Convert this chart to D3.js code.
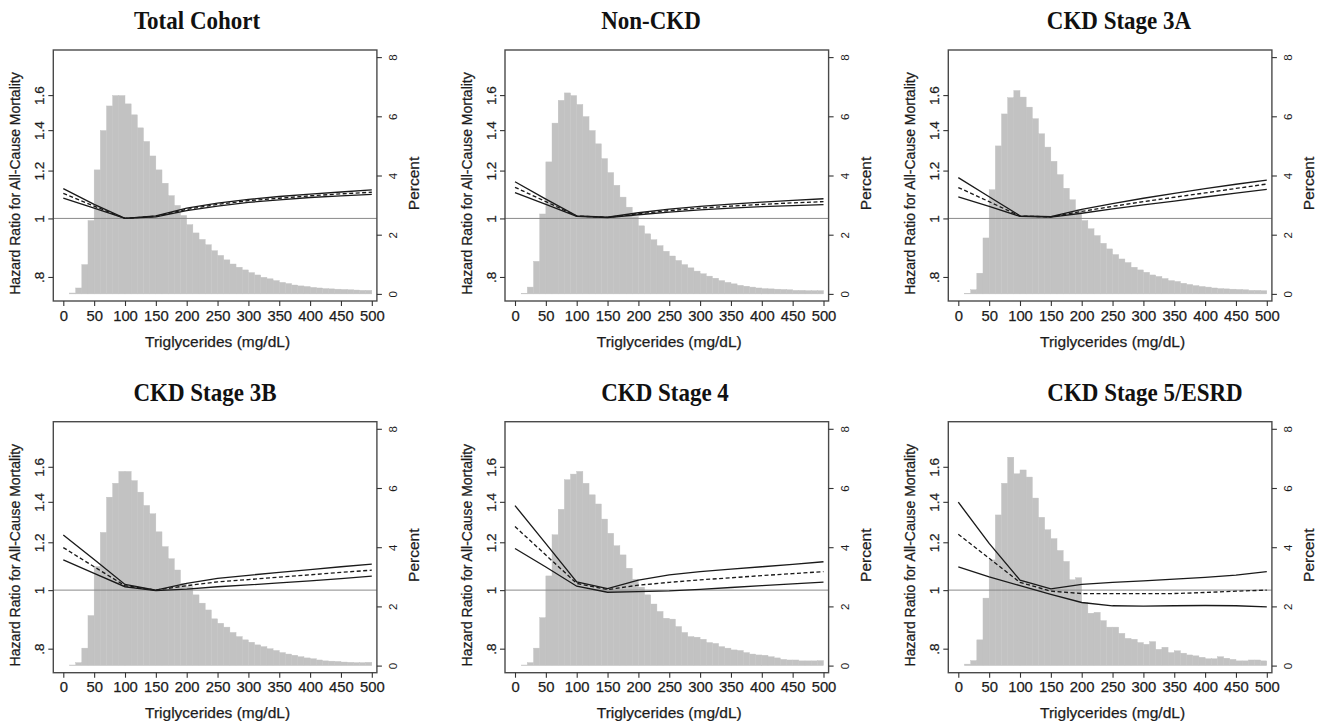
<!DOCTYPE html>
<html><head><meta charset="utf-8">
<script src="https://cdn.jsdelivr.net/npm/d3@7"></script>
<style>body{margin:0;background:#fff}svg{display:block}</style>
</head><body>
<svg id="c" width="1326" height="721"></svg>
<script>
// ---------- data ----------
const panelTitles = ["Total Cohort", "Non-CKD", "CKD Stage 3A", "CKD Stage 3B", "CKD Stage 4", "CKD Stage 5/ESRD"];
const binStarts = d3.range(10, 500, 10); // histogram bins (width 10)
const binWidth = 10;
const xTicks = [0, 50, 100, 150, 200, 250, 300, 350, 400, 450, 500];
const hrTicks = [0.8, 1, 1.2, 1.4, 1.6];
const hrTickLabels = [".8", "1", "1.2", "1.4", "1.6"];
const pctTicks = [0, 2, 4, 6, 8];
const knots = [0, 50, 100, 150, 200, 250, 300, 350, 400, 450, 500];

const histTotal = [0.03,0.2,0.99,2.48,4.19,5.52,6.35,6.70,6.70,6.42,6.05,5.61,5.15,4.66,4.19,3.74,3.32,2.99,2.65,2.34,2.06,1.84,1.66,1.46,1.30,1.15,1.01,0.90,0.81,0.72,0.64,0.56,0.51,0.45,0.39,0.35,0.30,0.27,0.25,0.22,0.20,0.18,0.17,0.16,0.15,0.14,0.13,0.12,0.12];
const histNonCKD = [0.02,0.23,1.10,2.70,4.46,5.77,6.54,6.79,6.70,6.40,5.99,5.52,5.07,4.57,4.10,3.67,3.27,2.93,2.61,2.30,2.03,1.83,1.63,1.44,1.28,1.13,0.99,0.88,0.77,0.68,0.60,0.53,0.45,0.39,0.34,0.29,0.26,0.23,0.20,0.18,0.17,0.16,0.15,0.14,0.12,0.12,0.11,0.11,0.11];
const hist3A = [0.02,0.14,0.70,1.89,3.52,5.00,6.08,6.63,6.87,6.65,6.31,5.92,5.41,4.96,4.48,4.03,3.57,3.18,2.84,2.48,2.20,1.97,1.71,1.52,1.33,1.18,1.06,0.90,0.81,0.73,0.64,0.59,0.52,0.45,0.42,0.36,0.32,0.28,0.25,0.23,0.20,0.18,0.17,0.16,0.15,0.14,0.12,0.12,0.11];
const hist3B = [0.02,0.10,0.59,1.69,3.35,4.50,5.69,6.16,6.56,6.56,6.25,5.86,5.41,5.13,4.52,4.02,3.61,3.23,2.78,2.67,2.39,2.11,1.88,1.58,1.43,1.30,1.12,0.98,0.87,0.79,0.70,0.64,0.57,0.51,0.44,0.39,0.35,0.30,0.26,0.23,0.19,0.16,0.15,0.14,0.12,0.11,0.10,0.10,0.11];
const hist4 = [0.02,0.10,0.59,1.62,3.03,4.42,5.28,6.28,6.47,6.56,6.16,5.77,5.46,4.95,4.47,4.05,3.74,3.29,2.92,2.65,2.39,2.08,1.83,1.60,1.57,1.32,1.12,0.98,0.96,0.89,0.78,0.75,0.64,0.59,0.53,0.51,0.44,0.39,0.36,0.35,0.30,0.26,0.21,0.19,0.19,0.16,0.16,0.16,0.17];
const hist5 = [0.05,0.17,0.87,2.28,3.57,5.09,6.16,7.04,6.48,6.61,6.37,5.66,5.01,4.59,4.29,3.89,3.52,2.90,2.97,2.13,1.77,1.80,1.52,1.30,1.30,1.09,0.92,0.89,0.78,0.72,0.81,0.55,0.62,0.44,0.50,0.42,0.36,0.33,0.28,0.23,0.23,0.30,0.25,0.21,0.16,0.16,0.19,0.19,0.16];

const upperTotal = [1.12,1.055,1.0,1.01,1.04,1.06,1.075,1.087,1.097,1.106,1.115];
const estTotal   = [1.10,1.048,1.0,1.008,1.035,1.055,1.07,1.08,1.09,1.098,1.105];
const lowerTotal = [1.08,1.04,1.0,1.006,1.03,1.048,1.063,1.073,1.083,1.09,1.096];

const upperNonCKD = [1.15,1.076,1.01,1.005,1.022,1.036,1.047,1.056,1.064,1.071,1.078];
const estNonCKD   = [1.126,1.066,1.009,1.004,1.018,1.03,1.04,1.048,1.055,1.061,1.066];
const lowerNonCKD = [1.103,1.055,1.008,1.003,1.014,1.024,1.033,1.04,1.046,1.05,1.054];

const upper3A = [1.168,1.086,1.01,1.007,1.035,1.058,1.08,1.10,1.12,1.139,1.157];
const est3A   = [1.125,1.066,1.009,1.006,1.027,1.047,1.066,1.084,1.102,1.121,1.14];
const lower3A = [1.086,1.047,1.008,1.005,1.02,1.037,1.053,1.068,1.085,1.101,1.117];

const upper3B = [1.234,1.124,1.022,1.0,1.026,1.046,1.058,1.07,1.081,1.093,1.104];
const est3B   = [1.176,1.093,1.017,1.0,1.017,1.032,1.041,1.051,1.06,1.07,1.079];
const lower3B = [1.122,1.066,1.013,0.998,1.004,1.013,1.02,1.028,1.036,1.045,1.055];

const upper4 = [1.38,1.194,1.032,1.006,1.039,1.06,1.073,1.083,1.093,1.103,1.114];
const est4   = [1.274,1.143,1.026,1.002,1.019,1.03,1.04,1.048,1.057,1.065,1.073];
const lower4 = [1.172,1.092,1.015,0.992,0.994,0.997,1.003,1.01,1.017,1.024,1.031];

const upper5 = [1.398,1.195,1.039,1.005,1.022,1.03,1.036,1.043,1.05,1.059,1.073];
const est5   = [1.237,1.129,1.03,0.996,0.987,0.987,0.987,0.987,0.991,0.996,1.0];
const lower5 = [1.093,1.052,1.017,0.984,0.954,0.942,0.941,0.942,0.943,0.942,0.938];

const hists = [histTotal, histNonCKD, hist3A, hist3B, hist4, hist5];
const uppers = [upperTotal, upperNonCKD, upper3A, upper3B, upper4, upper5];
const ests = [estTotal, estNonCKD, est3A, est3B, est4, est5];
const lowers = [lowerTotal, lowerNonCKD, lower3A, lower3B, lower4, lower5];

// ---------- layout ----------
const colLeft = [53.3, 505, 948.3];
const rowTop = [50, 421.7];
const frameW = 323.6, frameH = 251;
const titleX = [197, 651, 1119, 205, 665, 1145];

const svg = d3.select("#c");
const sans = "Arial, 'Liberation Sans', Helvetica, sans-serif";
const serif = "'Times New Roman', 'Liberation Serif', serif";
const ink = "#1c1c1c";

function inkText(sel) {
  return sel.attr("fill", ink).attr("stroke", ink).attr("stroke-width", 0.25);
}

panelTitles.forEach((title, i) => {
  const L = colLeft[i % 3], T = rowTop[Math.floor(i / 3)];
  const g = svg.append("g").attr("transform", `translate(${L},${T})`);

  const x = d3.scaleLinear().domain([0, 500]).range([10, 318.5]);
  const yHR = d3.scaleLog().domain([0.73, 1.9]).range([frameH, 0]);
  const yP = d3.scaleLinear().domain([-0.24, 8.24]).range([frameH, 0]);

  // histogram
  g.append("g").selectAll("rect").data(binStarts.map((b, k) => ({b, v: hists[i][k]})))
    .join("rect")
    .attr("x", d => x(d.b))
    .attr("width", d => x(d.b + binWidth) - x(d.b))
    .attr("y", d => yP(d.v))
    .attr("height", d => yP(0) - yP(d.v))
    .attr("fill", "#c2c2c2")
    .attr("stroke", "#c2c2c2").attr("stroke-width", 0.4);

  // reference line at HR = 1
  g.append("line").attr("x1", 0).attr("x2", frameW)
    .attr("y1", yHR(1)).attr("y2", yHR(1))
    .attr("stroke", "#8a8a8a").attr("stroke-width", 1);

  // spline lines
  const line = d3.line().x((d, k) => x(knots[k])).y(d => yHR(d));
  [[uppers[i], null], [lowers[i], null], [ests[i], "4,2.5"]].forEach(([arr, dash]) => {
    g.append("path").datum(arr).attr("d", line)
      .attr("fill", "none").attr("stroke", "#1a1a1a").attr("stroke-width", 1.35)
      .attr("stroke-dasharray", dash);
  });

  // frame
  g.append("rect").attr("width", frameW).attr("height", frameH)
    .attr("fill", "none").attr("stroke", "#4a4a4a").attr("stroke-width", 1.4);

  // bottom axis
  const ax = g.append("g").attr("transform", `translate(0,${frameH})`)
    .call(d3.axisBottom(x).tickValues(xTicks).tickSize(5).tickPadding(4).tickFormat(d3.format("d")));
  ax.select(".domain").remove();
  ax.selectAll("line").attr("stroke", "#333").attr("stroke-width", 1.1);
  inkText(ax.selectAll("text").attr("font-family", sans).attr("font-size", 14.8));

  // left axis (log HR)
  const ay = g.append("g")
    .call(d3.axisLeft(yHR).tickValues(hrTicks).tickSize(5).tickFormat((d, k) => hrTickLabels[k]));
  ay.select(".domain").remove();
  ay.selectAll("line").attr("stroke", "#333").attr("stroke-width", 1.1);
  inkText(ay.selectAll("text").attr("font-family", sans).attr("font-size", 13.5))
    .attr("x", null).attr("dy", null)
    .attr("text-anchor", "middle")
    .attr("transform", "translate(-9,0) rotate(-90)");

  // right axis (Percent)
  const ar = g.append("g").attr("transform", `translate(${frameW},0)`)
    .call(d3.axisRight(yP).tickValues(pctTicks).tickSize(5).tickFormat(d3.format("d")));
  ar.select(".domain").remove();
  ar.selectAll("line").attr("stroke", "#333").attr("stroke-width", 1.1);
  ar.selectAll("text").attr("font-family", sans).attr("font-size", 11.5).attr("fill", ink)
    .attr("x", null).attr("dy", null)
    .attr("text-anchor", "middle")
    .attr("transform", "translate(20,0) rotate(-90)");

  // axis titles
  inkText(g.append("text").attr("x", (x(0) + x(500)) / 2).attr("y", frameH + 45.5)
    .attr("text-anchor", "middle").attr("font-family", sans).attr("font-size", 15.5))
    .text("Triglycerides (mg/dL)");
  inkText(g.append("text").attr("transform", `translate(-33,${frameH / 2 + 8}) rotate(-90)`)
    .attr("text-anchor", "middle").attr("font-family", sans).attr("font-size", 14))
    .text("Hazard Ratio for All-Cause Mortality");
  inkText(g.append("text").attr("transform", `translate(${frameW + 42},${frameH / 2 + 8}) rotate(-90)`)
    .attr("text-anchor", "middle").attr("font-family", sans).attr("font-size", 15.5))
    .text("Percent");

  // panel title
  svg.append("text").attr("transform", `translate(${titleX[i]},${T - 21}) scale(1,1.08)`)
    .attr("text-anchor", "middle").attr("font-family", serif).attr("font-weight", "bold")
    .attr("font-size", 23).attr("fill", "#111")
    .text(title);
});
</script>
</body></html>
